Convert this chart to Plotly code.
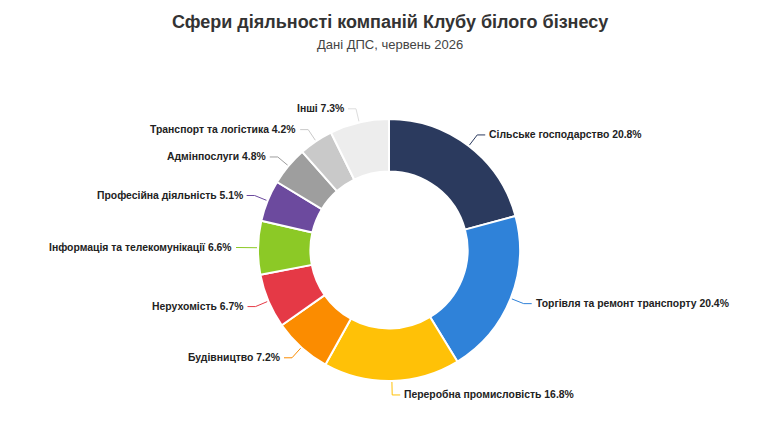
import math
import plotly.graph_objects as go

categories = [
    "Сільське господарство", "Торгівля та ремонт транспорту", "Переробна промисловість",
    "Будівництво", "Нерухомість", "Інформація та телекомунікації",
    "Професійна діяльність", "Адмінпослуги", "Транспорт та логістика", "Інші",
]
values = [20.8, 20.4, 16.8, 7.2, 6.7, 6.6, 5.1, 4.8, 4.2, 7.3]
colors = ["#2B3A5E", "#2F82D9", "#FFC107", "#FB8C00", "#E53946",
          "#8CC926", "#6C4A9E", "#9E9E9E", "#C9C9C9", "#EDEDED"]

W, H = 780, 439
CX, CY, R = 389, 250, 131

fig = go.Figure()
fig.add_trace(go.Pie(
    labels=categories, values=values, sort=False, direction="clockwise", rotation=0,
    hole=0.6, marker=dict(colors=colors, line=dict(color="white", width=2)),
    textinfo="none", hoverinfo="label+percent", showlegend=False,
    domain=dict(x=[(CX - R) / W, (CX + R) / W], y=[(H - CY - R) / H, (H - CY + R) / H]),
))

total = sum(values)
cum = 0.0
annotations = []
for name, v, c in zip(categories, values, colors):
    mid = (cum + v / 2) / total * 2 * math.pi
    cum += v
    s, co = math.sin(mid), math.cos(mid)
    x0, y0 = CX + (R + 1) * s, CY - (R + 1) * co
    x1, y1 = CX + (R + 14) * s, CY - (R + 14) * co
    side = 1 if s >= 0 else -1
    x2 = x1 + side * 8
    fig.add_trace(go.Scatter(x=[x0, x1, x2], y=[y0, y1, y1], mode="lines",
                             line=dict(color=c if c != "#EDEDED" else "#DDDDDD", width=1),
                             hoverinfo="skip", showlegend=False))
    annotations.append(dict(
        x=x2 + side * 2, y=y1, xref="x", yref="y", showarrow=False,
        text=f"<b>{name} {v}%</b>", xanchor="left" if side > 0 else "right", yanchor="middle",
        font=dict(family="Arial", size=10.4, color="#222222"),
    ))

annotations.append(dict(x=390, y=22, xref="x", yref="y", showarrow=False,
                        text="<b>Сфери діяльності компаній Клубу білого бізнесу</b>",
                        font=dict(family="Arial", size=18, color="#333333"),
                        xanchor="center", yanchor="middle"))
annotations.append(dict(x=390, y=44, xref="x", yref="y", showarrow=False,
                        text="Дані ДПС, червень 2026",
                        font=dict(family="Arial", size=13, color="#444444"),
                        xanchor="center", yanchor="middle"))

fig.update_layout(
    width=W, height=H, margin=dict(l=0, r=0, t=0, b=0),
    paper_bgcolor="white", plot_bgcolor="white",
    xaxis=dict(range=[0, W], visible=False, fixedrange=True),
    yaxis=dict(range=[H, 0], visible=False, fixedrange=True),
    annotations=annotations,
)
fig.write_html("out.html")
